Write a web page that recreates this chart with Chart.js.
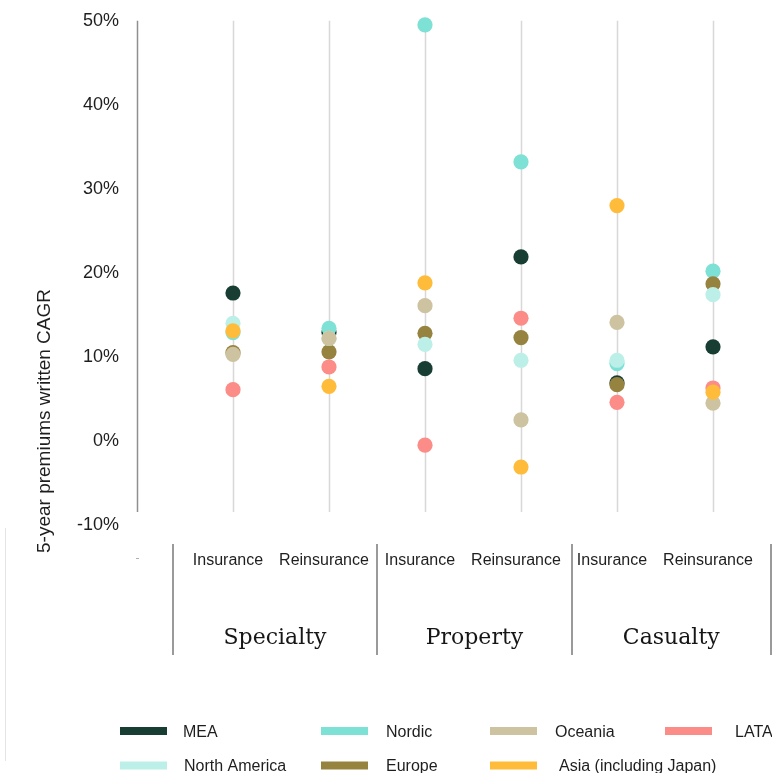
<!DOCTYPE html>
<html>
<head>
<meta charset="utf-8">
<title>5-year premiums written CAGR by line and region</title>
<script src="https://cdn.jsdelivr.net/npm/chart.js@4.4.1/dist/chart.umd.min.js"></script>
<style>
  html, body { margin: 0; padding: 0; background: #ffffff; overflow: hidden; width: 772px; height: 773px; }
  canvas { display: block; }
</style>
</head>
<body>
<canvas id="cagr" width="809" height="773"></canvas>
<script>
// Lines of business and the insurance / reinsurance split inside each
const groups = ['Specialty', 'Property', 'Casualty'];
const subCategories = ['Insurance', 'Reinsurance', 'Insurance', 'Reinsurance', 'Insurance', 'Reinsurance'];

// Y-axis ticks (percent)
const yTicks = [-10, 0, 10, 20, 30, 40, 50];

// Region names and colours, in legend order
const regions = ['MEA', 'Nordic', 'Oceania', 'LATAM', 'North America', 'Europe', 'Asia (including Japan)'];
const regionColors = ['#183e34', '#7ee1d5', '#cdc3a0', '#fb8c88', '#bcefe8', '#978340', '#ffbc3b'];

// 5-year premiums written CAGR (%), one value per sub-category
const mea          = [17.6, 12.9,  8.6, 21.9,  6.9, 11.2];
const nordic       = [12.9, 13.4, 49.5, 33.2,  9.2, 20.2];
const oceania      = [10.3, 12.2, 16.1,  2.5, 14.1,  4.5];
const latam        = [ 6.1,  8.8, -0.5, 14.6,  4.6,  6.3];
const northAmerica = [14.0, 12.2, 11.5,  9.6,  9.6, 17.4];
const europe       = [10.5, 10.6, 12.8, 12.3,  6.7, 18.7];
const asia         = [13.1,  6.5, 18.8, -3.1, 28.0,  5.8];

const seriesValues = [mea, nordic, oceania, latam, northAmerica, europe, asia];
// Stacking of the dots (lower = drawn on top)
const drawOrder = [7, 6, 3, 2, 4, 5, 1];

const FONT_SANS = '"Liberation Sans", Arial, Helvetica, sans-serif';
const FONT_SERIF = '"DejaVu Serif", "Liberation Serif", serif';
const GRID_FLOOR = -8.45;

const datasets = regions.map((name, i) => ({
  label: name,
  data: seriesValues[i].map((v, j) => ({ x: j + 1, y: v })),
  backgroundColor: regionColors[i],
  borderWidth: 0,
  pointRadius: 7.6,
  pointHoverRadius: 7.6,
  clip: false,
  order: drawOrder[i]
}));

// Vertical guide lines behind the dots
const guideLines = {
  id: 'guideLines',
  beforeDatasetsDraw(chart) {
    const { ctx, chartArea, scales: { x, y } } = chart;
    const bottom = y.getPixelForValue(GRID_FLOOR);
    ctx.save();
    for (let i = 0; i <= subCategories.length; i++) {
      const px = Math.round(x.getPixelForValue(i)) + 0.5;
      ctx.strokeStyle = i === 0 ? '#8f8f8f' : '#d8d8d8';
      ctx.lineWidth = 1.5;
      ctx.beginPath();
      ctx.moveTo(px, chartArea.top);
      ctx.lineTo(px, bottom);
      ctx.stroke();
    }
    ctx.restore();
  }
};

// Two-level category labels, axis title and legend
const annotations = {
  id: 'annotations',
  afterDraw(chart) {
    const { ctx, scales: { x } } = chart;
    ctx.save();

    // small mark under the axis
    ctx.strokeStyle = '#b0b0b0';
    ctx.lineWidth = 1;
    ctx.beginPath();
    ctx.moveTo(x.getPixelForValue(0) - 1, 558.5);
    ctx.lineTo(x.getPixelForValue(0) + 2, 558.5);
    ctx.stroke();

    // faint frame line on the left
    ctx.strokeStyle = '#e4e4e4';
    ctx.beginPath();
    ctx.moveTo(5.5, 528);
    ctx.lineTo(5.5, 761);
    ctx.stroke();

    // group separators
    const sepValues = [0.375, 2.5, 4.53, 6.6];
    const seps = sepValues.map(v => x.getPixelForValue(v));
    ctx.strokeStyle = '#9a9a9a';
    ctx.lineWidth = 2;
    seps.forEach(px => {
      ctx.beginPath();
      ctx.moveTo(Math.round(px), 544);
      ctx.lineTo(Math.round(px), 655);
      ctx.stroke();
    });

    // sub-category labels
    ctx.fillStyle = '#1e1e1e';
    ctx.textAlign = 'center';
    ctx.textBaseline = 'middle';
    ctx.font = '16px ' + FONT_SANS;
    subCategories.forEach((lab, i) => {
      ctx.fillText(lab, x.getPixelForValue(i + 1) - 5, 560.5);
    });

    // group labels
    ctx.fillStyle = '#161616';
    ctx.font = '22px ' + FONT_SERIF;
    groups.forEach((g, i) => {
      ctx.fillText(g, (seps[i] + seps[i + 1]) / 2, 638);
    });

    // y-axis title
    ctx.save();
    ctx.translate(45, 421);
    ctx.rotate(-Math.PI / 2);
    ctx.fillStyle = '#1e1e1e';
    ctx.font = '19px ' + FONT_SANS;
    ctx.fillText('5-year premiums written CAGR', 0, 0);
    ctx.restore();

    // legend
    const colX = [120, 321, 490, 665, 120, 321, 490];
    const rowY = [731, 731, 731, 731, 765.5, 765.5, 765.5];
    const textGap = [16, 18, 18, 23, 17, 18, 22];
    ctx.font = '16px ' + FONT_SANS;
    ctx.textAlign = 'left';
    regions.forEach((name, i) => {
      ctx.fillStyle = regionColors[i];
      ctx.fillRect(colX[i], rowY[i] - 4, 47, 8);
      ctx.fillStyle = '#1e1e1e';
      ctx.fillText(name, colX[i] + 47 + textGap[i], rowY[i] + 1.5);
    });

    ctx.restore();
  }
};

new Chart(document.getElementById('cagr'), {
  type: 'scatter',
  data: { datasets },
  options: {
    responsive: false,
    animation: false,
    events: [],
    layout: { autoPadding: false, padding: { left: 0, right: 0, top: 20.7, bottom: 248 } },
    scales: {
      x: { type: 'linear', min: 0, max: 7, display: false },
      y: {
        min: yTicks[0],
        max: yTicks[yTicks.length - 1],
        afterBuildTicks(scale) { scale.ticks = yTicks.map(v => ({ value: v })); },
        afterFit(scale) {
          scale.width = 137;
          scale.paddingTop = 0;
          scale.paddingBottom = 0;
        },
        ticks: {
          padding: 18,
          color: '#1e1e1e',
          font: { size: 18, family: FONT_SANS },
          callback: v => v + '%'
        },
        grid: { display: false, drawTicks: false },
        border: { display: false }
      }
    },
    plugins: { legend: { display: false }, tooltip: { enabled: false } }
  },
  plugins: [guideLines, annotations]
});
</script>
</body>
</html>
